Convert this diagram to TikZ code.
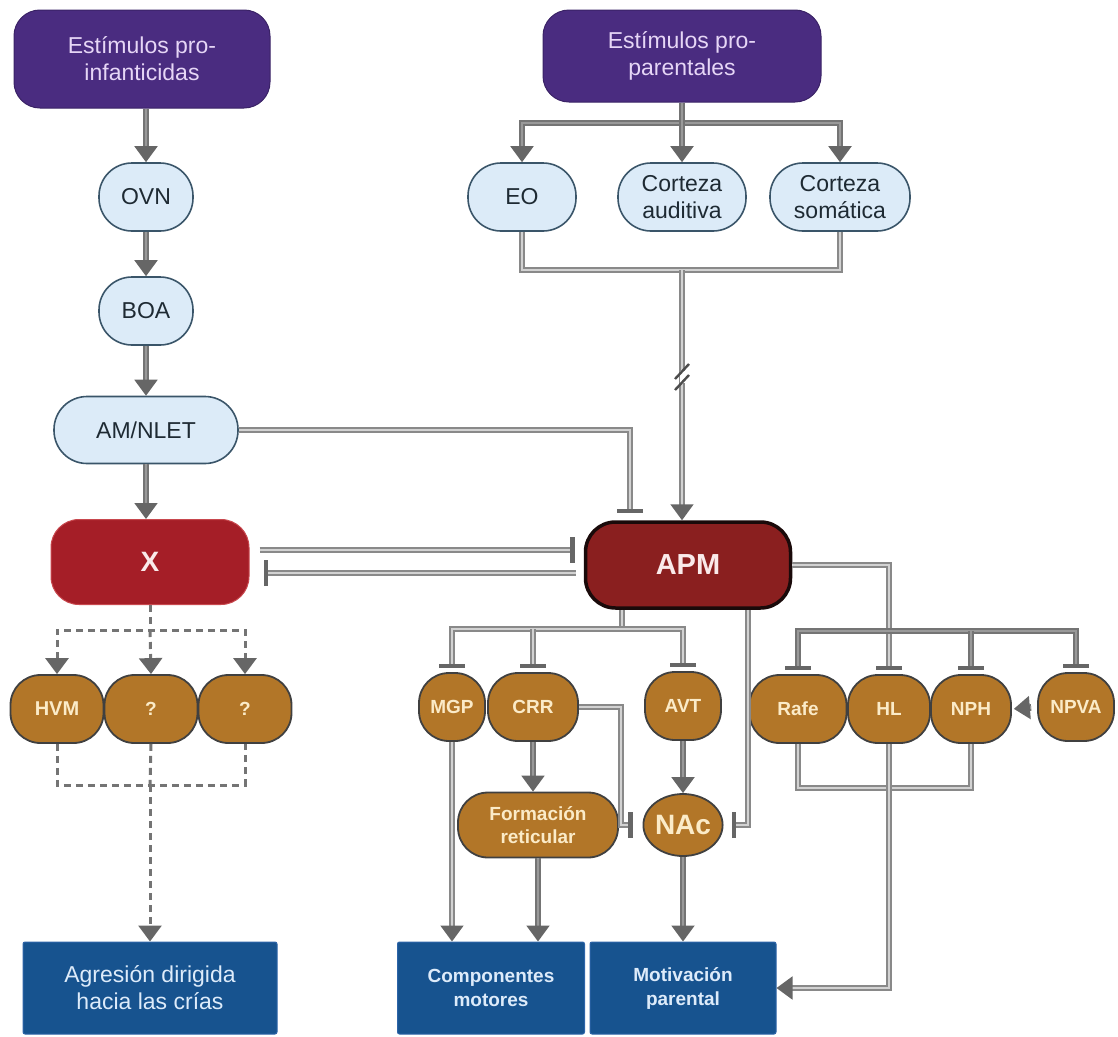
\documentclass[tikz,border=0pt]{standalone}
\usepackage{fontspec}
\setmainfont{Liberation Sans}
\usetikzlibrary{arrows.meta,shapes.geometric,calc}
\definecolor{purp}{HTML}{4A2C80}
\definecolor{purpb}{HTML}{3A2266}
\definecolor{purpt}{HTML}{E6D6F6}
\definecolor{lblue}{HTML}{DCEBF8}
\definecolor{lbord}{HTML}{3A5569}
\definecolor{ovtext}{HTML}{1E2A33}
\definecolor{xred}{HTML}{A51E27}
\definecolor{xredb}{HTML}{C8484E}
\definecolor{xtext}{HTML}{FAEAEA}
\definecolor{apmred}{HTML}{8A1F1F}
\definecolor{apmb}{HTML}{1A0A0A}
\definecolor{ochre}{HTML}{B27628}
\definecolor{ochreb}{HTML}{404040}
\definecolor{ochret}{HTML}{FBEBC8}
\definecolor{dblue}{HTML}{17538F}
\definecolor{dblueb}{HTML}{2D64A8}
\definecolor{dbluet}{HTML}{DDEBFA}
\definecolor{lnout}{HTML}{747474}
\definecolor{lnin}{HTML}{999999}
\definecolor{lnlin}{HTML}{D2D2D2}
\definecolor{tipc}{HTML}{666666}
\begin{document}
\begin{tikzpicture}[x=1pt,y=-1pt,
  tri/.tip={Triangle[width=23pt,length=16pt,color=tipc]},
  inh/.tip={Bar[width=26pt,line width=4.5pt,color=tipc]},
  conn/.style={draw=lnout,line width=2pt,double=lnin,double distance=2.6pt},
  connl/.style={draw=lnout!85,line width=1.8pt,double=lnlin,double distance=2.6pt},
  dsh/.style={draw=lnout,line width=3pt,dash pattern=on 7pt off 5pt},
  stim/.style={rectangle,rounded corners=26pt,fill=purp,draw=purpb,line width=1pt,text=purpt,
    font=\fontsize{23}{27}\selectfont,align=center,inner sep=0pt},
  oval/.style={rectangle,rounded corners=33pt,fill=lblue,draw=lbord,line width=1.6pt,text=ovtext,
    font=\fontsize{23}{27}\selectfont,align=center,inner sep=0pt,minimum height=68pt},
  xbox/.style={rectangle,rounded corners=28pt,fill=xred,draw=xredb,line width=1pt,text=xtext,
    font=\fontsize{28}{32}\selectfont\bfseries,inner sep=0pt,minimum width=198pt,minimum height=85pt},
  apmbox/.style={rectangle,rounded corners=30pt,fill=apmred,draw=apmb,line width=3.5pt,text=xtext,
    font=\fontsize{29}{32}\selectfont\bfseries,inner sep=0pt,minimum width=205pt,minimum height=86pt},
  orn/.style={rectangle,rounded corners=30pt,fill=ochre,draw=ochreb,line width=1.8pt,text=ochret,
    font=\fontsize{19}{23}\selectfont\bfseries,align=center,inner sep=0pt,minimum height=68pt},
  outb/.style={rectangle,rounded corners=2pt,fill=dblue,draw=dblueb,line width=1pt,text=dbluet,
    font=\fontsize{19}{24}\selectfont\bfseries,align=center,inner sep=0pt,minimum height=92pt}
]
\useasboundingbox (0,0) rectangle (1118,1036);

% nodes
\node[stim,minimum width=256pt,minimum height=98pt] (pinf) at (142,59) {Estímulos pro-\\infanticidas};
\node[stim,minimum width=278pt,minimum height=92pt] (ppar) at (682,56) {Estímulos pro-\\parentales};
\node[oval,minimum width=94pt] (ovn) at (146,197) {OVN};
\node[oval,minimum width=94pt] (boa) at (146,311) {BOA};
\node[oval,minimum width=184pt,minimum height=67pt] (amn) at (146,430) {AM/NLET};
\node[oval,minimum width=108pt] (eo) at (522,197) {EO};
\node[oval,minimum width=128pt] (caud) at (682,197) {Corteza\\auditiva};
\node[oval,minimum width=140pt] (csom) at (840,197) {Corteza\\somática};
\node[xbox] (xx) at (150,562) {X};
\node[apmbox] (apm) at (688,565) {APM};
\node[orn,minimum width=93pt,font=\fontsize{20}{24}\selectfont\bfseries] (hvm) at (57,709) {HVM};
\node[orn,minimum width=93pt] (q1) at (151,709) {?};
\node[orn,minimum width=93pt] (q2) at (245,709) {?};
\node[orn,minimum width=66pt] (mgp) at (452,707) {MGP};
\node[orn,minimum width=90pt] (crr) at (533,707) {CRR};
\node[orn,minimum width=76pt] (avt) at (683,706) {AVT};
\node[orn,minimum width=97pt] (rafe) at (798,709) {Rafe};
\node[orn,minimum width=82pt] (hl) at (889,709) {HL};
\node[orn,minimum width=80pt] (nph) at (971,709) {NPH};
\node[orn,minimum width=76pt] (npva) at (1076,707) {NPVA};
\node[orn,minimum width=160pt,minimum height=65pt] (form) at (538,825) {Formación\\reticular};
\node[orn,ellipse,minimum width=72pt,minimum height=62pt,font=\fontsize{28}{30}\selectfont\bfseries] (nac) at (683,825) {NAc};
\node[outb,minimum width=254pt,font=\fontsize{23}{27}\selectfont] (agr) at (150,988) {Agresión dirigida\\hacia las crías};
\node[outb,minimum width=187pt] (comp) at (491,988) {Componentes\\motores};
\node[outb,minimum width=186pt] (motiv) at (683,988) {Motivación\\parental};

% left chain
\draw[conn,-tri] (pinf.south -| ovn.north) -- (ovn.north);
\draw[conn,-tri] (ovn.south) -- (boa.north);
\draw[conn,-tri] (boa.south) -- (amn.north);
\draw[conn,-tri] (amn.south) -- (amn.south |- xx.north);

% pro-parental branch
\coordinate (pbr) at (682,123);
\draw[conn,tri-tri] (eo.north) |- (pbr) -| (csom.north);
\draw[conn,-tri] (ppar.south) -- (caud.north);
\coordinate (sbr) at (682,270);
\draw[connl] (eo.south) |- (sbr) -| (csom.south);
\draw[connl,-tri] (sbr) -- (sbr |- apm.north);
\coordinate (brk) at (682,377);
\draw[white,line width=5pt] ($(brk)+(0,-6)$) -- ($(brk)+(0,6)$);
\draw[black!70,line width=2.4pt] ($(brk)+(-7,2)$) -- ($(brk)+(7,-13)$);
\draw[black!70,line width=2.4pt] ($(brk)+(-7,13)$) -- ($(brk)+(7,-2)$);

% AM/NLET -| APM
\draw[connl,-inh,shorten >=7pt] (amn.east) -| ([xshift=-58pt]apm.north);

% X <-> APM
\draw[connl,-inh,shorten <=10pt,shorten >=9pt] ([yshift=12pt]xx.east) -- ([yshift=12pt]xx.east -| apm.west);
\draw[connl,-inh,shorten <=8pt,shorten >=14pt] ([yshift=-11pt]xx.east -| apm.west) -- ([yshift=-11pt]xx.east);

% APM bottom branch
\coordinate (abr) at (622,629);
\draw[connl] (apm.south -| abr) -- (abr);
\draw[connl,inh-inh,shorten <=4pt,shorten >=4pt] (mgp.north) |- (abr) -| (avt.north);
\draw[connl,-inh,shorten >=4pt] (abr -| crr.north) -- (crr.north);

% APM -> NAc
\draw[connl,-inh,shorten >=8pt] ([xshift=60pt]apm.south) |- (nac.east);

% APM east branch
\coordinate (hbr) at (889,631);
\draw[connl,-inh,shorten >=4pt] (apm.east) -| (hl.north);
\draw[conn,inh-inh,shorten <=4pt,shorten >=4pt] (rafe.north) |- (hbr) -| (npva.north);
\draw[conn,-inh,shorten >=4pt] (hbr -| nph.north) -- (nph.north);

% NPVA -> NPH
\draw[conn,-tri,shorten <=6pt,shorten >=2pt] (npva.west) -- (nph.east);

% Rafe/HL/NPH -> Motivacion
\coordinate (rbr) at (889,788);
\draw[connl] (rafe.south) |- (rbr) -| (nph.south);
\draw[connl,-tri] (hl.south) -- (rbr) |- (motiv.east);

% CRR, AVT, MGP, form, NAc
\draw[conn,-tri] (crr.south) -- (crr.south |- form.north);
\coordinate (crrk) at (621,707);
\draw[connl,-inh,shorten >=10pt] (crr.east) -- (crrk) |- (nac.west);
\draw[conn,-tri] (avt.south) -- (nac.north);
\draw[connl,-tri] (mgp.south) -- (mgp.south |- comp.north);
\draw[conn,-tri] (form.south) -- (form.south |- comp.north);
\draw[conn,-tri] (nac.south) -- (motiv.north);

% dashed X branch
\coordinate (xd) at (150,630);
\coordinate (hd) at (150,785);
\draw[dsh] (xx.south) -- (xd);
\draw[dsh,tri-tri] (hvm.north) |- (xd) -| (q2.north);
\draw[dsh,-tri] (xd) -- (q1.north);
\draw[dsh] (hvm.south) |- (hd) -| (q2.south);
\draw[dsh] (q1.south) -- (hd);
\draw[dsh,-tri] (hd) -- (agr.north);
\end{tikzpicture}
\end{document}
